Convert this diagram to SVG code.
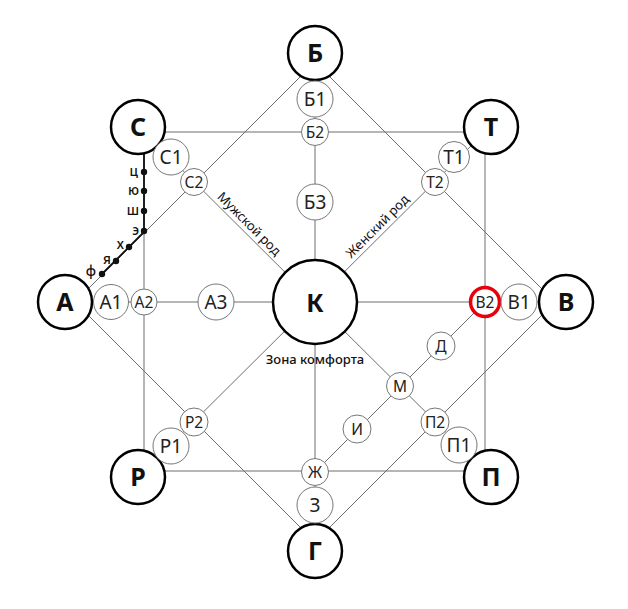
<svg xmlns="http://www.w3.org/2000/svg" width="628" height="609" viewBox="0 0 628 609">
<style>
.ln{fill:none;stroke:#6e6e6e;stroke-width:1}
.big circle{fill:#fff;stroke:#000;stroke-width:2.5}
.big text{font-family:"Noto Sans","DejaVu Sans",sans-serif;font-weight:bold;font-size:25px;fill:#111;text-anchor:middle}
.sm circle{fill:#fff;stroke:#777;stroke-width:1}
.sm text{font-family:"Noto Sans","DejaVu Sans",sans-serif;font-size:19px;fill:#222;text-anchor:middle}
.xs text{font-size:15.5px}
.lbl{font-family:"Noto Sans","DejaVu Sans",sans-serif;font-size:13px;fill:#111}
.dot{fill:#111}
.ch{font-family:"Noto Sans","DejaVu Sans",sans-serif;font-size:13.5px;fill:#111;text-anchor:end;font-weight:500}
</style>
<rect width="628" height="609" fill="#fff"/>
<g id="connectors">
<rect class="ln" x="144" y="132" width="341" height="339"/>
<polygon class="ln" points="315,62 555,302 315,542 75,302"/>
<line class="ln" x1="65" y1="302" x2="566" y2="302"/>
<line class="ln" x1="315" y1="53" x2="315" y2="550"/>
<line class="ln" x1="144" y1="132" x2="485" y2="471"/>
<line class="ln" x1="485" y1="132" x2="144" y2="471"/>
<line class="ln" x1="485" y1="302" x2="315" y2="472"/>
<polyline points="144,150 144,232 101,275" fill="none" stroke="#111" stroke-width="1.8"/>
</g>
<g id="letters">
<circle class="dot" cx="144" cy="172" r="3.2"/><text class="ch" x="138" y="176">ц</text>
<circle class="dot" cx="144" cy="191" r="3.2"/><text class="ch" x="139" y="195">ю</text>
<circle class="dot" cx="144" cy="211" r="3.2"/><text class="ch" x="139" y="215">ш</text>
<circle class="dot" cx="144" cy="231" r="3.2"/><text class="ch" x="139" y="235">э</text>
<circle class="dot" cx="129" cy="247" r="3.2"/><text class="ch" x="124" y="249">х</text>
<circle class="dot" cx="116" cy="261" r="3.2"/><text class="ch" x="111" y="264">я</text>
<circle class="dot" cx="102" cy="274" r="3.2"/><text class="ch" x="96" y="276">ф</text>
</g>
<g id="labels">
<text class="lbl" transform="translate(246,227) rotate(45)" text-anchor="middle">Мужской род</text>
<text class="lbl" transform="translate(380.5,229.5) rotate(-45)" text-anchor="middle">Женский род</text>
<text class="lbl" x="315" y="364" text-anchor="middle" font-size="14" font-weight="500">Зона комфорта</text>
</g>
<g id="node-K" class="big"><circle cx="315" cy="302" r="42"/><text x="315" y="312" font-size="28">К</text></g>
<g id="node-B" class="big"><circle cx="315" cy="53" r="27"/><text x="315" y="62">Б</text></g>
<g id="node-S" class="big"><circle cx="138" cy="127" r="27"/><text x="138" y="136">С</text></g>
<g id="node-T" class="big"><circle cx="491" cy="127" r="27"/><text x="491" y="136">Т</text></g>
<g id="node-A" class="big"><circle cx="65" cy="302" r="27"/><text x="65" y="311">А</text></g>
<g id="node-V" class="big"><circle cx="566" cy="302" r="27"/><text x="566" y="311">В</text></g>
<g id="node-R" class="big"><circle cx="138" cy="477" r="27"/><text x="138" y="486">Р</text></g>
<g id="node-P" class="big"><circle cx="491" cy="477" r="27"/><text x="491" y="486">П</text></g>
<g id="node-G" class="big"><circle cx="315" cy="551" r="27"/><text x="315" y="560">Г</text></g>
<g id="node-B1" class="sm"><circle cx="315" cy="99" r="18"/><text x="315" y="106">Б1</text></g>
<g id="node-B2" class="sm xs"><circle cx="315" cy="132" r="13.5"/><text x="315" y="137.5">Б2</text></g>
<g id="node-B3" class="sm"><circle cx="315" cy="202" r="18"/><text x="315" y="209">Б3</text></g>
<g id="node-S1" class="sm"><circle cx="171" cy="157" r="18"/><text x="171" y="164">С1</text></g>
<g id="node-S2" class="sm xs"><circle cx="194" cy="182" r="13.5"/><text x="194" y="187.5">С2</text></g>
<g id="node-T1" class="sm"><circle cx="454" cy="157" r="15.5"/><text x="454" y="164">Т1</text></g>
<g id="node-T2" class="sm xs"><circle cx="435" cy="182" r="13.5"/><text x="435" y="187.5">Т2</text></g>
<g id="node-A1" class="sm"><circle cx="111" cy="302" r="17.5"/><text x="111" y="309">А1</text></g>
<g id="node-A2" class="sm xs"><circle cx="144" cy="302" r="13"/><text x="144" y="307.5">А2</text></g>
<g id="node-A3" class="sm"><circle cx="216" cy="302" r="18"/><text x="216" y="309">А3</text></g>
<g id="node-V2" class="sm xs"><circle cx="485" cy="302" r="14.5" style="stroke:#e8000b;stroke-width:3.5"/><text x="485" y="307.5">В2</text></g>
<g id="node-V1" class="sm"><circle cx="519" cy="302" r="18"/><text x="519" y="309">В1</text></g>
<g id="node-D" class="sm xs"><circle cx="441" cy="346" r="14"/><text x="441" y="351.5">Д</text></g>
<g id="node-M" class="sm xs"><circle cx="400" cy="386" r="13.5"/><text x="400" y="391.5">М</text></g>
<g id="node-I" class="sm xs"><circle cx="357" cy="429" r="14"/><text x="357" y="434.5">И</text></g>
<g id="node-Zh" class="sm xs"><circle cx="315" cy="472" r="13.5"/><text x="315" y="477.5">Ж</text></g>
<g id="node-Z" class="sm"><circle cx="315" cy="505" r="18"/><text x="315" y="512">З</text></g>
<g id="node-R1" class="sm"><circle cx="171" cy="446" r="18"/><text x="171" y="453">Р1</text></g>
<g id="node-R2" class="sm xs"><circle cx="194" cy="422" r="14"/><text x="194" y="427.5">Р2</text></g>
<g id="node-P1" class="sm"><circle cx="459" cy="445" r="18"/><text x="459" y="452">П1</text></g>
<g id="node-P2" class="sm xs"><circle cx="435" cy="422" r="14"/><text x="435" y="427.5">П2</text></g>
</svg>
